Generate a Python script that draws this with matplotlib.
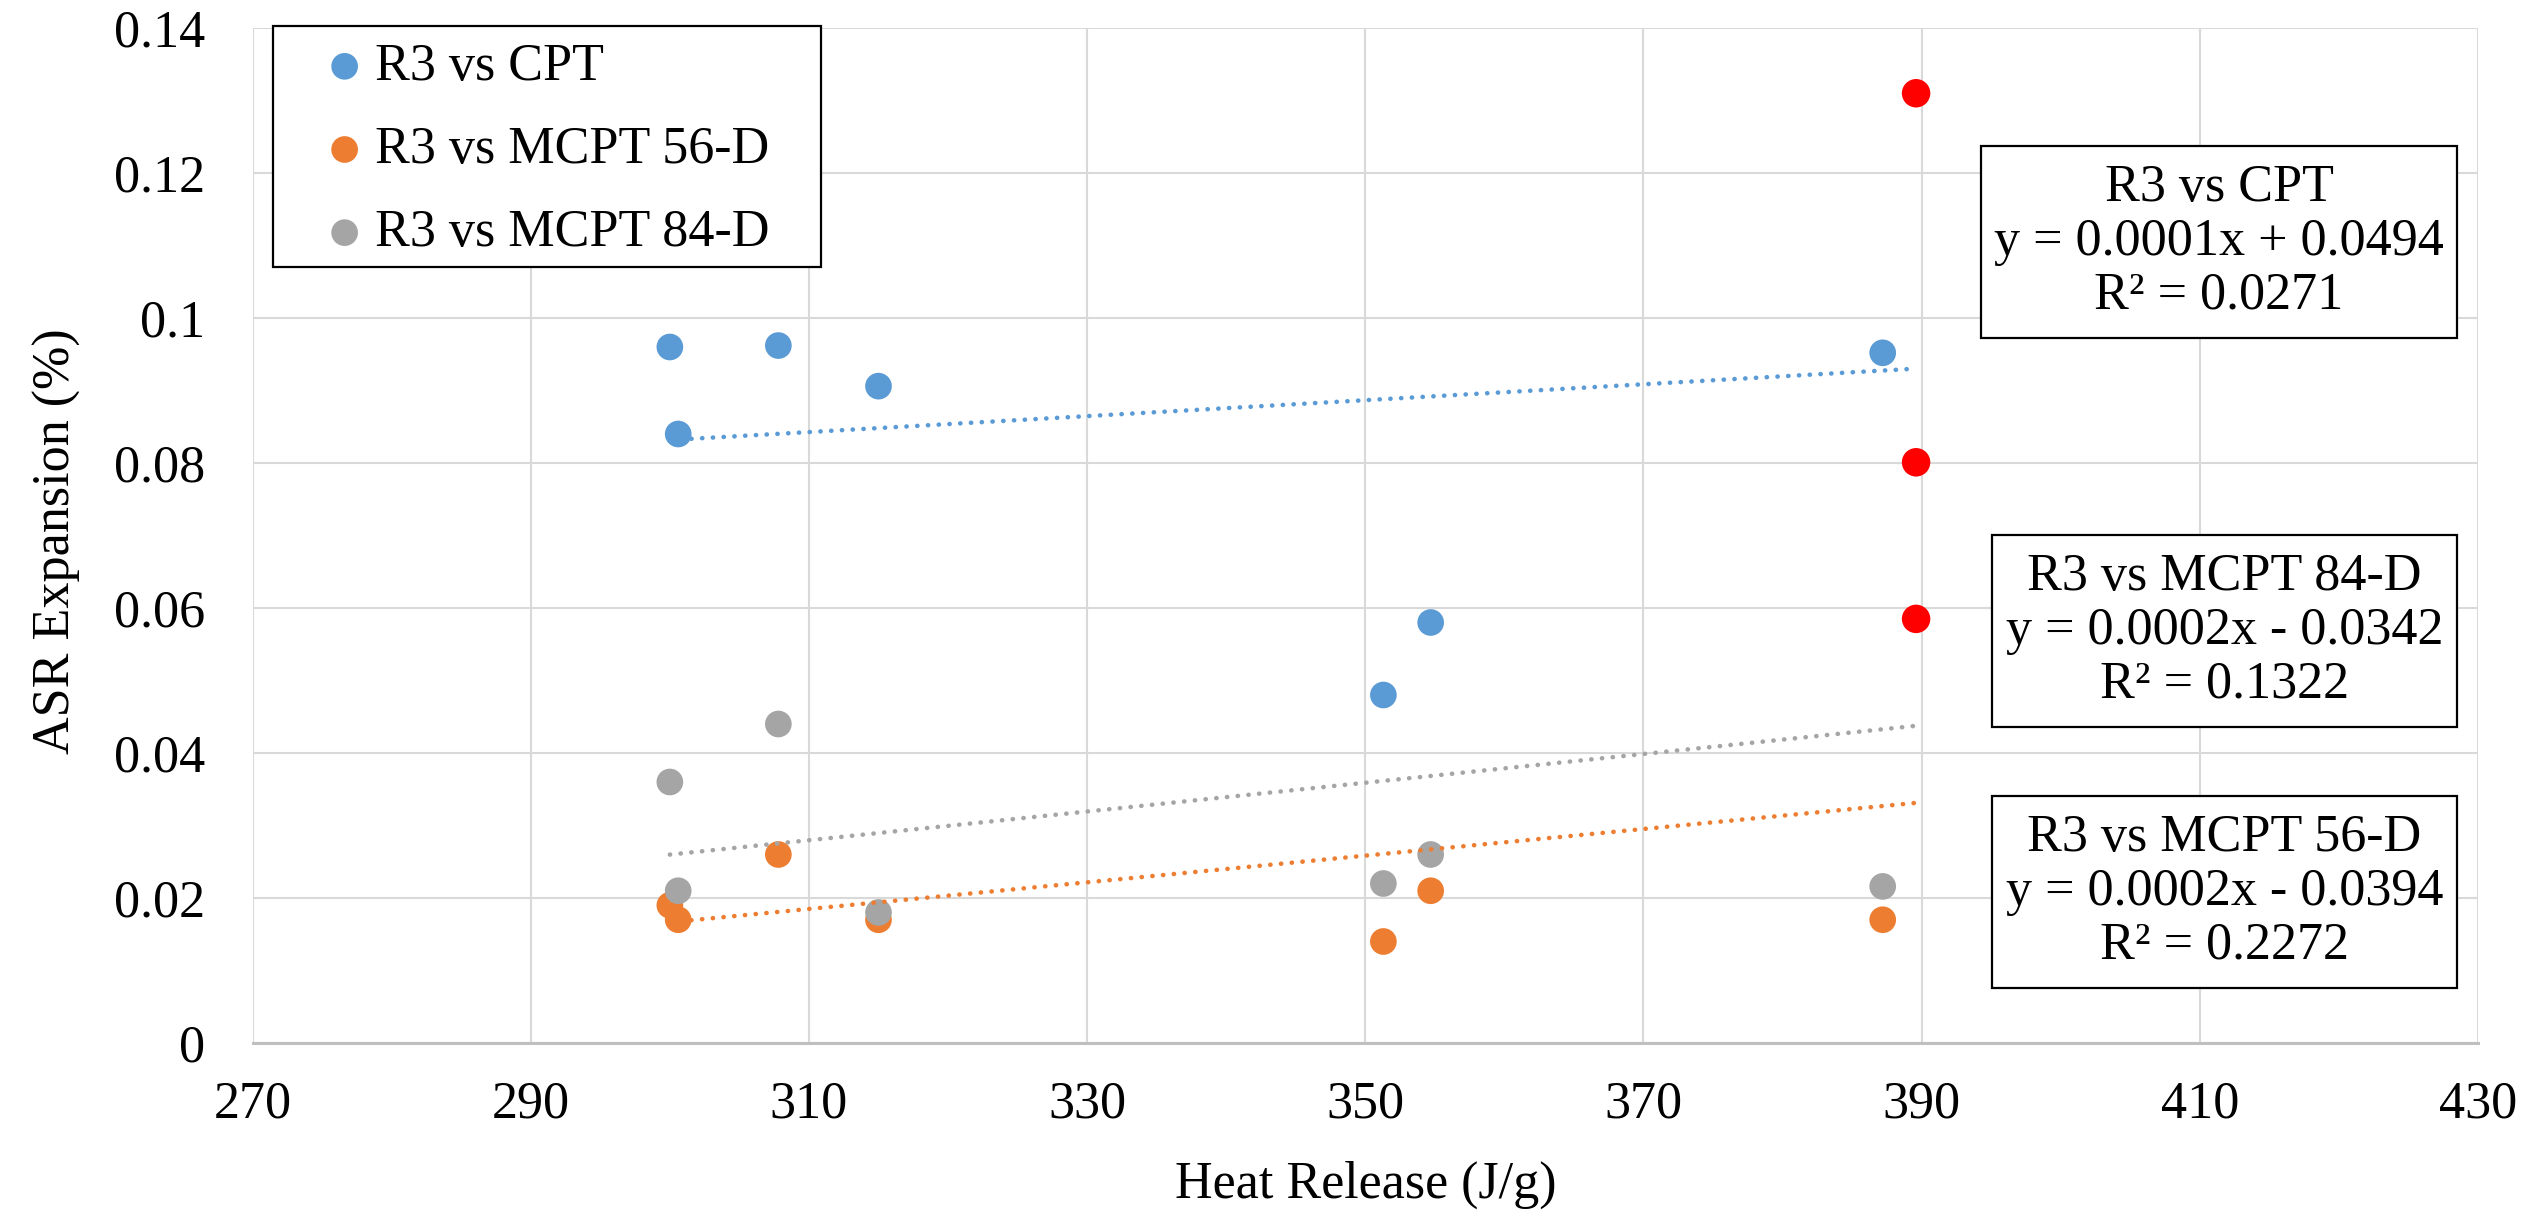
import numpy as np
import matplotlib
matplotlib.use("Agg")
import matplotlib.pyplot as plt
from matplotlib.patches import Rectangle
from matplotlib.ticker import FixedLocator, FixedFormatter

# ---------------- data ----------------
heat_release = [300.0, 300.6, 307.8, 315.0, 351.3, 354.7, 387.2, 389.6]
cpt = [0.096, 0.084, 0.0962, 0.0906, 0.048, 0.058, 0.0952, 0.131]
mcpt_56d = [0.019, 0.017, 0.026, 0.017, 0.014, 0.021, 0.017, 0.0585]
mcpt_84d = [0.036, 0.021, 0.044, 0.018, 0.022, 0.026, 0.0216, 0.080]

highlight_x = [389.6, 389.6, 389.6]
highlight_y = [0.131, 0.0801, 0.0585]

series_names = ["R3 vs CPT", "R3 vs MCPT 56-D", "R3 vs MCPT 84-D"]
equations = {
    "R3 vs CPT": ["R3 vs CPT", "y = 0.0001x + 0.0494", "R² = 0.0271"],
    "R3 vs MCPT 84-D": ["R3 vs MCPT 84-D", "y = 0.0002x - 0.0342", "R² = 0.1322"],
    "R3 vs MCPT 56-D": ["R3 vs MCPT 56-D", "y = 0.0002x - 0.0394", "R² = 0.2272"],
}

x_ticks = [270, 290, 310, 330, 350, 370, 390, 410, 430]
y_ticks = [0, 0.02, 0.04, 0.06, 0.08, 0.1, 0.12, 0.14]
y_tick_labels = ["0", "0.02", "0.04", "0.06", "0.08", "0.1", "0.12", "0.14"]

x_label = "Heat Release (J/g)"
y_label = "ASR Expansion (%)"

# ---------------- style ----------------
colors = ["#5B9BD5", "#ED7D31", "#A5A5A5"]
plt.rcParams["font.family"] = ["Liberation Serif", "DejaVu Serif"]
FS = 37.5

W, H = 2534, 1210
fig = plt.figure(figsize=(W / 100, H / 100), dpi=100)
ax = fig.add_axes([252.6 / W, 1 - 1043 / H, (2478 - 252.6) / W, (1043 - 28) / H])

ax.set_xlim(270, 430)
ax.set_ylim(0, 0.14)
ax.xaxis.set_major_locator(FixedLocator(x_ticks))
ax.xaxis.set_major_formatter(FixedFormatter([str(t) for t in x_ticks]))
ax.yaxis.set_major_locator(FixedLocator(y_ticks))
ax.yaxis.set_major_formatter(FixedFormatter(y_tick_labels))
ax.grid(True, color="#D9D9D9", linewidth=1.5, zorder=0)
ax.set_axisbelow(True)
for s in ["left", "right", "top"]:
    ax.spines[s].set_visible(False)
ax.spines["bottom"].set_color("#BFBFBF")
ax.spines["bottom"].set_linewidth(2.2)
ax.spines["bottom"].set_zorder(1)
ax.tick_params(axis="both", length=0, labelsize=FS)
ax.tick_params(axis="x", pad=27)
ax.tick_params(axis="y", pad=34)

all_series = [cpt, mcpt_56d, mcpt_84d]
xs = np.array(heat_release)
handles = []
for name, ys, c in zip(series_names, all_series, colors):
    h = ax.scatter(xs, ys, s=19.2 ** 2, color=c, edgecolors="none", zorder=3, label=name)
    handles.append(h)

# linear trendlines (least squares)
for ys, c in zip(all_series, colors):
    k, b = np.polyfit(xs, np.array(ys), 1)
    xx = np.array([xs.min(), xs.max()])
    ax.plot(xx, k * xx + b, color=c, linewidth=3.3, linestyle=(0, (0.05, 2.3)),
            dash_capstyle="round", zorder=4)

ax.scatter(highlight_x, highlight_y, s=20.5 ** 2, color="#FF0000", edgecolors="none", zorder=5)

# axis labels
fig.text(1366 / W, 1 - 1185 / H, x_label, ha="center", va="center", fontsize=FS)
fig.text(57 / W, 1 - 541 / H, y_label, ha="center", va="center", rotation=90, fontsize=FS)

# legend frame (manual) + legend entries
fig.patches.append(Rectangle((272.7 / W, 1 - 267 / H), (821 - 272.7) / W, (267 - 26) / H,
                             transform=fig.transFigure, facecolor="white", edgecolor="black",
                             linewidth=1.6, zorder=6))
leg = fig.legend(handles=handles, loc="upper left",
                 bbox_to_anchor=(329 / W, 1 - 43 / H), bbox_transform=fig.transFigure,
                 fontsize=FS, frameon=False, borderaxespad=0, borderpad=0,
                 handletextpad=0.29, labelspacing=0.675,
                 handlelength=0.6, markerscale=1.0)
leg.set_zorder(7)

# equation boxes
boxes = [
    ("R3 vs CPT", 1981, 146, 2457, 338),
    ("R3 vs MCPT 84-D", 1992, 535, 2457, 727),
    ("R3 vs MCPT 56-D", 1992, 796, 2457, 988),
]
for key, x0, y0, x1, y1 in boxes:
    rect = Rectangle((x0 / W, 1 - y1 / H), (x1 - x0) / W, (y1 - y0) / H,
                     transform=fig.transFigure, facecolor="white", edgecolor="black",
                     linewidth=1.6, zorder=6)
    fig.patches.append(rect)
    fig.text((x0 + x1) / 2 / W, 1 - (y0 + y1) / 2 / H, "\n".join(equations[key]),
             ha="center", va="center", fontsize=FS, linespacing=1.15, zorder=7)

fig.savefig("out.png", dpi=100)
